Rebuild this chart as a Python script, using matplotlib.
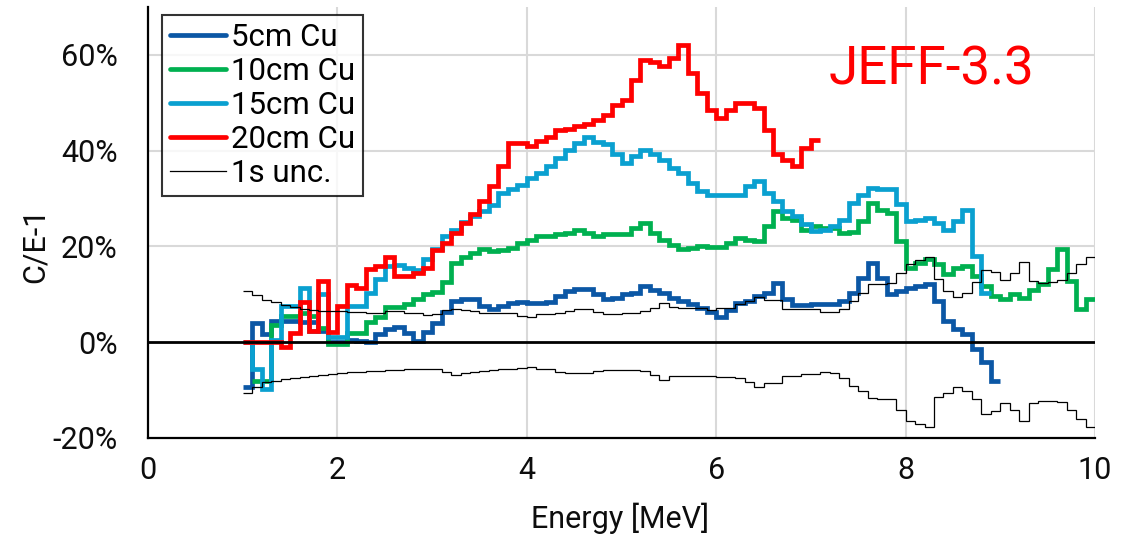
import numpy as np
import matplotlib
matplotlib.use("Agg")
import matplotlib.pyplot as plt
from matplotlib.lines import Line2D

plt.rcParams['font.family'] = ['Roboto', 'DejaVu Sans']

# ---------------- data (C/E-1 in %, 0.1 MeV bins) ----------------
bin_width = 0.1

cu5_start = 1.0
cu5 = [-9.4, 4.0, 1.7, 4.4, 4.4, 4.4, 4.2, 4.2, 2.4, 0.0,
       0.0, 0.5, 0.3, 0.0, 1.7, 2.8, 3.1, 2.0, 0.3, 2.1,
       4.1, 6.3, 8.6, 9.0, 9.0, 7.6, 6.9, 7.6, 8.1, 8.3,
       8.1, 8.1, 8.3, 9.7, 10.7, 11.2, 11.2, 10.0, 9.0, 9.3,
       10.0, 10.3, 11.7, 11.0, 10.3, 9.3, 8.6, 7.9, 7.2, 6.3,
       5.3, 6.7, 8.1, 8.6, 9.7, 10.3, 12.3, 9.0, 7.7, 7.7,
       7.9, 7.9, 7.9, 8.6, 10.3, 13.5, 16.6, 13.5, 10.0, 10.7,
       11.4, 11.7, 12.2, 8.6, 4.4, 2.7, 1.7, -1.5, -4.2, -8.1]

cu10_start = 1.1
cu10 = [-8.0, -8.0, 3.5, 5.5, 5.5, 6.0, 5.5, 3.0, -0.3,
        -0.3, 2.0, 2.0, 4.2, 5.2, 7.3, 7.3, 7.9, 9.0, 10.0,
        10.5, 12.5, 16.6, 17.8, 18.7, 19.4, 19.0, 19.2, 19.7, 20.8,
        21.3, 22.2, 22.2, 22.5, 22.8, 23.5, 22.8, 22.2, 22.5, 22.7,
        22.5, 23.9, 24.9, 22.8, 21.3, 20.2, 19.4, 19.7, 20.1, 19.9,
        19.9, 20.8, 21.8, 21.3, 21.1, 24.2, 27.4, 26.0, 25.6, 23.5,
        24.2, 23.9, 23.9, 22.8, 23.0, 25.3, 29.1, 27.7, 27.0, 21.1,
        15.6, 16.6, 17.3, 16.3, 14.2, 15.6, 16.0, 13.8, 11.7, 9.7,
        9.0, 10.0, 9.3, 11.0, 12.1, 15.2, 19.4, 12.8, 6.9, 9.0]

cu15_start = 1.0
cu15 = [0.0, -5.6, -9.8, 0.5, 7.6, 7.6, 11.4, 2.4, 10.0, 1.0,
        1.0, 7.6, 7.6, 10.3, 13.1, 16.0, 16.2, 15.5, 15.0, 17.3,
        19.4, 22.2, 23.5, 25.0, 26.3, 27.4, 28.7, 31.2, 32.0, 32.9,
        34.3, 35.3, 36.7, 38.5, 40.2, 41.6, 42.8, 41.9, 41.3, 39.2,
        37.4, 38.8, 40.2, 39.2, 38.1, 36.4, 35.3, 33.3, 31.5, 30.8,
        30.8, 30.8, 30.8, 32.6, 33.6, 31.2, 29.4, 27.4, 26.3, 24.6,
        23.2, 23.5, 24.2, 25.6, 29.1, 30.8, 32.2, 31.9, 31.9, 28.8,
        25.3, 25.6, 26.0, 24.9, 23.5, 25.3, 27.7, 18.1, 10.3]

cu20_start = 1.0
cu20 = [0.0, 0.0, 0.0, 0.0, -1.1, 2.0, 8.3, 2.4, 12.8, 2.2,
        7.6, 12.0, 11.4, 15.2, 16.0, 17.9, 13.8, 13.8, 14.4, 15.5,
        19.2, 20.8, 22.8, 24.9, 26.7, 29.4, 32.7, 36.9, 41.6, 41.6,
        40.9, 42.1, 42.8, 44.4, 44.6, 45.1, 45.6, 46.3, 47.4, 49.6,
        50.6, 54.8, 59.0, 58.6, 57.6, 59.3, 62.1, 56.2, 52.0, 48.5,
        46.8, 48.5, 49.9, 49.9, 48.9, 44.4, 39.2, 38.1, 36.7, 40.6,
        42.3]

unc_start = 1.0
unc_upper = [10.8, 9.8, 8.8, 8.4, 7.8, 7.4, 7.0, 6.7, 6.6, 6.5,
             6.5, 6.3, 6.3, 6.0, 6.0, 6.5, 6.5, 6.2, 6.0, 5.6,
             5.8, 6.7, 6.9, 6.8, 6.6, 6.2, 6.0, 6.0, 6.0, 5.5,
             5.3, 5.8, 5.8, 6.2, 6.5, 6.9, 6.9, 6.3, 5.8, 5.8,
             6.2, 6.2, 6.5, 7.1, 8.1, 7.4, 7.1, 7.1, 7.2, 6.7,
             7.1, 7.2, 7.9, 8.6, 9.5, 8.8, 8.8, 7.0, 7.0, 7.0,
             6.9, 6.3, 6.3, 6.9, 8.6, 10.3, 12.1, 12.1, 12.4, 14.4,
             16.4, 17.1, 17.8, 13.1, 10.7, 9.4, 10.3, 12.6, 15.1, 14.6,
             12.9, 14.4, 16.7, 12.8, 12.4, 12.6, 12.9, 14.4, 16.3, 17.8]
unc_lower = [-10.5, -9.4, -8.4, -8.0, -7.7, -7.5, -7.2, -7.0, -6.8, -6.6,
             -6.4, -6.3, -6.2, -6.1, -6.0, -5.8, -5.7, -5.6, -5.6, -5.5,
             -5.6, -6.3, -6.8, -6.5, -6.2, -6.0, -5.9, -5.6, -5.6, -5.3,
             -5.1, -5.6, -5.6, -6.2, -6.5, -6.5, -6.5, -6.1, -5.8, -5.8,
             -5.7, -5.7, -6.0, -6.8, -7.9, -7.0, -7.0, -7.0, -7.0, -7.0,
             -7.2, -7.2, -7.5, -8.3, -9.4, -8.5, -8.5, -7.0, -7.0, -6.7,
             -6.6, -6.2, -6.5, -7.4, -9.2, -10.1, -11.7, -11.9, -11.9, -14.1,
             -16.4, -17.1, -17.8, -11.5, -10.5, -9.4, -10.1, -11.9, -15.0, -14.3,
             -12.7, -14.1, -16.4, -12.6, -12.2, -12.2, -12.4, -14.1, -16.0, -17.8]

labels = ["5cm Cu", "10cm Cu", "15cm Cu", "20cm Cu", "1s unc."]
colors = ["#0b57a5", "#00b050", "#0aa0d0", "#ff0000", "#000000"]
x_ticks = [0, 2, 4, 6, 8, 10]
y_ticks = [-20, 0, 20, 40, 60]
y_ticklabels = ["-20%", "0%", "20%", "40%", "60%"]
library_label = "JEFF-3.3"


def edges_for(start, vals):
    return start + bin_width * np.arange(len(vals) + 1)


# ---------------- figure ----------------
W, H = 1124, 538
fig = plt.figure(figsize=(W / 100, H / 100), dpi=100)
ax = fig.add_axes([148 / W, 1 - 438 / H, (1095 - 148) / W, (438 - 7) / H])

ax.set_xlim(0, 10)
ax.set_ylim(-20, 70)

for xv in x_ticks[1:]:
    ax.axvline(xv, color="#d9d9d9", lw=1.5, zorder=0)
for yv in y_ticks[2:]:
    ax.axhline(yv, color="#d9d9d9", lw=1.5, zorder=0)

LW = 3.4
series = [(cu5_start, cu5), (cu10_start, cu10), (cu15_start, cu15), (cu20_start, cu20)]
for i, (st, vals) in enumerate(series):
    ax.stairs(vals, edges_for(st, vals), baseline=None, color=colors[i],
              lw=LW, zorder=2 + i, joinstyle="miter")

ax.stairs(unc_upper, edges_for(unc_start, unc_upper), baseline=None,
          color="black", lw=0.9, zorder=7)
ax.stairs(unc_lower, edges_for(unc_start, unc_lower), baseline=None,
          color="black", lw=0.9, zorder=7)

ax.axhline(0, color="black", lw=2.0, zorder=8)

for s in ["top", "right"]:
    ax.spines[s].set_visible(False)
for s in ["left", "bottom"]:
    ax.spines[s].set_linewidth(1.6)
    ax.spines[s].set_color("black")
    ax.spines[s].set_zorder(9)

ax.set_xticks(x_ticks)
ax.set_xticklabels([str(v) for v in x_ticks])
ax.set_yticks(y_ticks)
ax.set_yticklabels(y_ticklabels)
ax.tick_params(axis="both", length=0, labelsize=22, colors="#0d0d0d")
ax.tick_params(axis="x", pad=13)
ax.tick_params(axis="y", pad=22)

fig.text(620 / W, 1 - 518 / H, "Energy [MeV]", ha="center", va="center",
         fontsize=22, color="#0d0d0d")
fig.text(35 / W, 1 - 245 / H, "C/E-1", ha="center", va="center",
         rotation=90, fontsize=22, color="#0d0d0d")
fig.text(932 / W, 1 - 70 / H, library_label, ha="center", va="center",
         fontsize=38, color="#ff0000")

handles = [Line2D([0], [0], color=colors[i], lw=LW, solid_capstyle="round")
           for i in range(4)]
handles.append(Line2D([0], [0], color="black", lw=0.9))
leg = ax.legend(handles, labels, loc="upper left",
                bbox_to_anchor=(14 / 947, (438 - 15) / 431),
                borderaxespad=0, fontsize=22.5, frameon=True, fancybox=False,
                edgecolor="black", handlelength=1.8, handletextpad=0.15,
                labelspacing=0.16, borderpad=0.25)
leg.get_frame().set_linewidth(1.5)
leg.set_zorder(20)

fig.savefig("out.png", dpi=100)
